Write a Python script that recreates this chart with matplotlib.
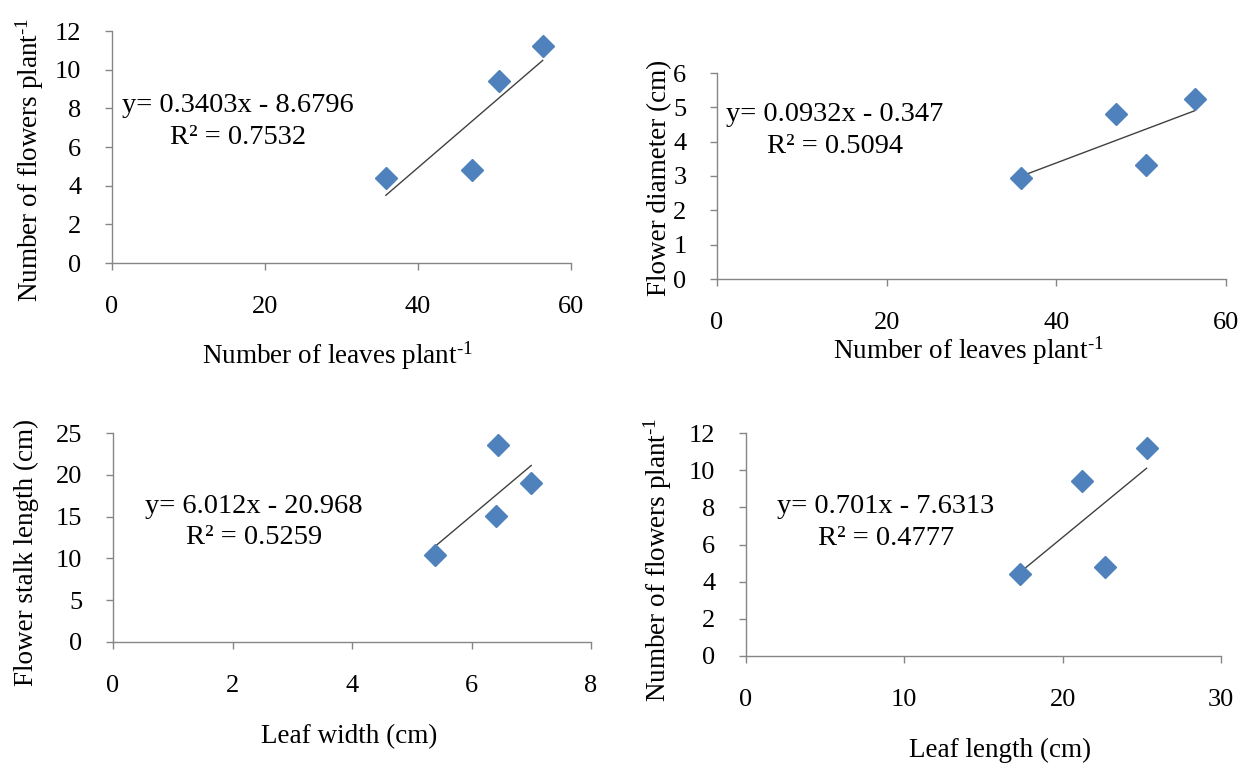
import numpy as np
import matplotlib.pyplot as plt

# ---- data ----
leaves_per_plant = [35.8, 47.0, 50.6, 56.3]
flowers_vs_leaves = [4.4, 4.8, 9.4, 11.2]
diameter_vs_leaves = [2.95, 4.8, 3.33, 5.25]

leaf_width = [5.39, 6.41, 6.44, 7.0]
stalk_length = [10.4, 15.1, 23.6, 19.0]

leaf_length = [17.3, 21.2, 22.7, 25.3]
flowers_vs_length = [4.4, 9.4, 4.8, 11.2]

# trendline coefficients (from the chart equations)
slopes = [0.3403, 0.0932, 6.012, 0.701]
intercepts = [-8.6796, -0.347, -20.968, -7.6313]
equations = ["y= 0.3403x - 8.6796\nR\u00b2 = 0.7532",
             "y= 0.0932x - 0.347\nR\u00b2 = 0.5094",
             "y= 6.012x - 20.968\nR\u00b2 = 0.5259",
             "y= 0.701x - 7.6313\nR\u00b2 = 0.4777"]

x_labels = [r"Number of leaves plant$^{\text{-1}}$", r"Number of leaves plant$^{\text{-1}}$",
            "Leaf width (cm)", "Leaf length (cm)"]
y_labels = [r"Number of flowers plant$^{\text{-1}}$", "Flower diameter (cm)",
            "Flower stalk length (cm)", r"Number of flowers plant$^{\text{-1}}$"]
x_limits = [(0, 60), (0, 60), (0, 8), (0, 30)]
y_limits = [(0, 12), (0, 6), (0, 25), (0, 12)]
x_steps = [20, 20, 2, 10]
y_steps = [2, 1, 5, 2]

W, H = 1238, 764
BLUE = "#4F81BD"
GREY = "#868686"
FS_TICK = 19
FS_LABEL = 19.5
FS_EQ = 20.5

plt.rcParams["font.family"] = ["Liberation Serif", "DejaVu Serif"]
plt.rcParams["mathtext.fontset"] = "custom"
plt.rcParams["mathtext.rm"] = "Liberation Serif"
plt.rcParams["mathtext.it"] = "Liberation Serif:italic"


def main():
    fig = plt.figure(figsize=(W / 100, H / 100), dpi=100)

    # axes boxes in pixels: left, top, right, bottom
    boxes = [(112, 31, 571, 263), (717, 73, 1226, 279),
             (113, 433, 591, 642), (746, 433, 1221, 656)]
    # label centres in pixels: xlabel (x, y), ylabel (x, y)
    xlab_pos = [(337, 356), (968, 351), (349, 737), (1000, 750)]
    ylab_pos = [(30, 160), (660, 178), (26, 552), (658, 560)]
    text_pos = [(0.275, 0.61), (0.231, 0.72), (0.295, 0.574), (0.294, 0.60)]

    series = [(leaves_per_plant, flowers_vs_leaves),
              (leaves_per_plant, diameter_vs_leaves),
              (leaf_width, stalk_length),
              (leaf_length, flowers_vs_length)]

    for i, (xs, ys) in enumerate(series):
        l, t, r, b = boxes[i]
        ax = fig.add_axes([l / W, 1 - b / H, (r - l) / W, (b - t) / H])

        # trendline over the data range
        xp = np.array([min(xs), max(xs)])
        ax.plot(xp, slopes[i] * xp + intercepts[i], color="#404040",
                linewidth=1.0, zorder=2)
        ax.plot(xs, ys, linestyle="none", marker="D", markersize=11,
                color=BLUE, markeredgecolor=BLUE, zorder=3, clip_on=False)

        ax.set_xlim(*x_limits[i])
        ax.set_ylim(*y_limits[i])
        ax.set_xticks(np.arange(x_limits[i][0], x_limits[i][1] + 1e-9, x_steps[i]))
        ax.set_yticks(np.arange(y_limits[i][0], y_limits[i][1] + 1e-9, y_steps[i]))

        for side in ["top", "right"]:
            ax.spines[side].set_visible(False)
        for side in ["left", "bottom"]:
            ax.spines[side].set_color(GREY)
            ax.spines[side].set_linewidth(1.0)
        ax.tick_params(axis="both", direction="out", length=5, width=1.0,
                       color=GREY, labelsize=FS_TICK)
        ax.tick_params(axis="x", pad=19)
        ax.tick_params(axis="y", pad=17)
        ax.set_facecolor("none")

        ax.text(text_pos[i][0], text_pos[i][1], equations[i],
                transform=ax.transAxes, ha="center", va="center",
                fontsize=FS_EQ, linespacing=1.35)

        fig.text(xlab_pos[i][0] / W, 1 - xlab_pos[i][1] / H, x_labels[i],
                 ha="center", va="center", fontsize=FS_LABEL)
        fig.text(ylab_pos[i][0] / W, 1 - ylab_pos[i][1] / H, y_labels[i],
                 ha="center", va="center", rotation=90, fontsize=FS_LABEL)

    fig.savefig("out.png", dpi=100)
    plt.close(fig)


if __name__ == "__main__":
    main()
